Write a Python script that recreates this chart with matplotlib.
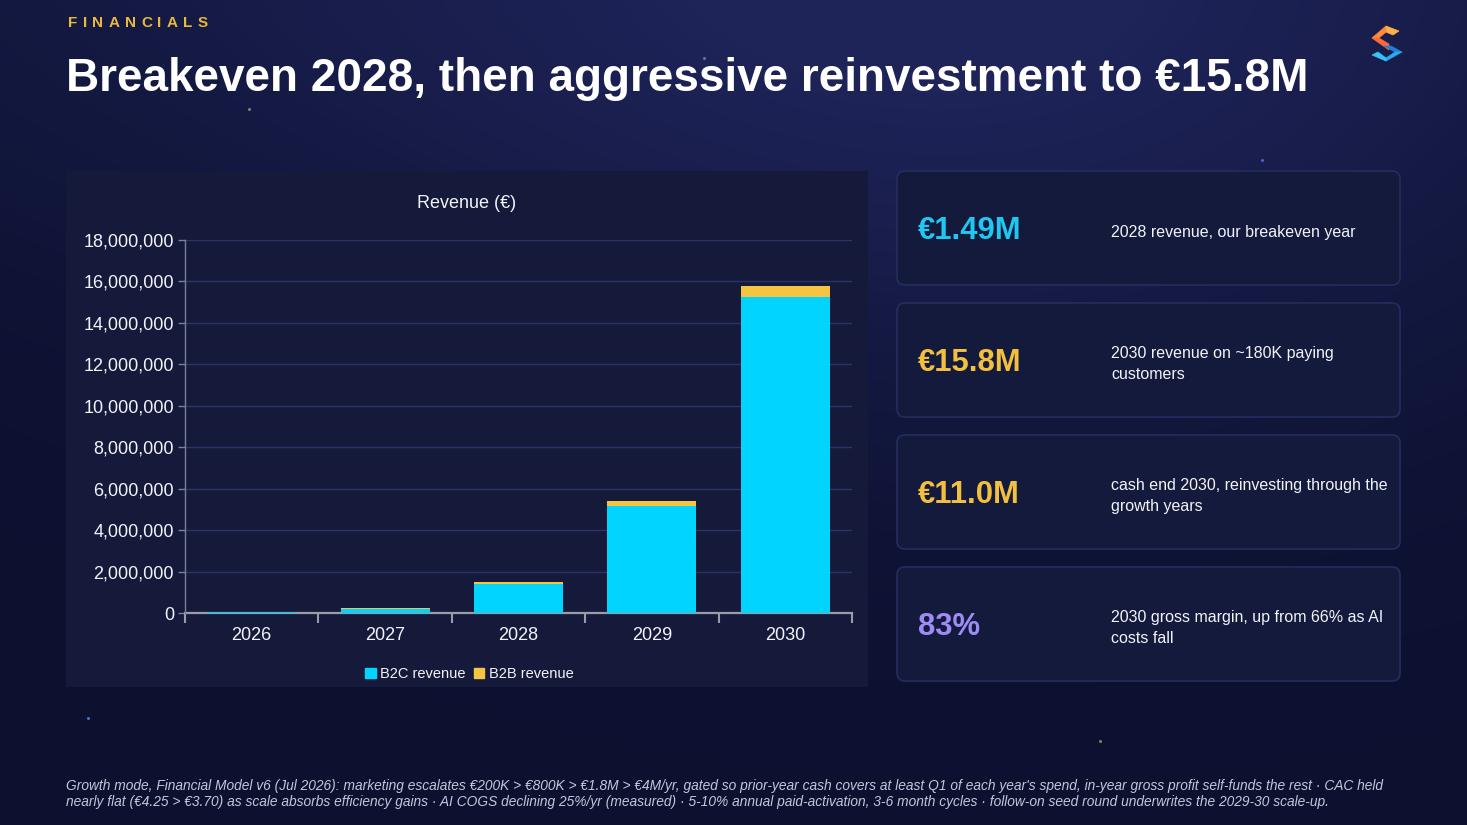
import numpy as np
import matplotlib
matplotlib.use("Agg")
import matplotlib.pyplot as plt
from matplotlib.patches import FancyBboxPatch, Rectangle, Patch, Polygon
from matplotlib.ticker import FuncFormatter

# ---------------- data ----------------
years = ["2026", "2027", "2028", "2029", "2030"]
b2c_revenue = [45000, 210000, 1400000, 5160000, 15250000]
b2b_revenue = [0, 10000, 90000, 240000, 550000]
series_names = ["B2C revenue", "B2B revenue"]
y_ticks = list(range(0, 18000001, 2000000))

kpi_values = ["€1.49M", "€15.8M", "€11.0M", "83%"]
kpi_texts = ["2028 revenue, our breakeven year",
             "2030 revenue on ~180K paying\ncustomers",
             "cash end 2030, reinvesting through the\ngrowth years",
             "2030 gross margin, up from 66% as AI\ncosts fall"]

eyebrow = "FINANCIALS"
headline = "Breakeven 2028, then aggressive reinvestment to €15.8M"
chart_title = "Revenue (€)"
footnote = ("Growth mode, Financial Model v6 (Jul 2026): marketing escalates €200K > €800K > €1.8M > €4M/yr, gated so prior-year cash covers at least Q1 of each year's spend, in-year gross profit self-funds the rest · CAC held\n"
            "nearly flat (€4.25 > €3.70) as scale absorbs efficiency gains · AI COGS declining 25%/yr (measured) · 5-10% annual paid-activation, 3-6 month cycles · follow-on seed round underwrites the 2029-30 scale-up.")

# ---------------- style ----------------
CYAN = "#00d4ff"
GOLD = "#f5c542"
KPI_COLORS = ["#1ec8f2", "#f2c03e", "#f2c03e", "#9d8cf5"]
WHITE = "#f2f3f8"
SANS = ["Liberation Sans", "DejaVu Sans"]

W, H = 1467, 825
fig = plt.figure(figsize=(W / 100, H / 100), dpi=100)

# background
bg = fig.add_axes([0, 0, 1, 1])
bg.set_xlim(0, W)
bg.set_ylim(H, 0)
bg.axis("off")
yy, xx = np.mgrid[0:H, 0:W]
base = np.array([0x0c, 0x11, 0x30]) / 255.0
glow = np.array([0x1e, 0x23, 0x58]) / 255.0
t = np.exp(-(((xx - 1000) / 650.0) ** 2 + ((yy + 30) / 420.0) ** 2))
t2 = 0.35 * np.exp(-(((xx - 200) / 700.0) ** 2 + ((yy + 50) / 300.0) ** 2))
tt = np.clip(t + t2, 0, 1)[..., None]
img = base * (1 - tt) + glow * tt
bg.imshow(img, extent=[0, W, H, 0], aspect="auto", zorder=0)

# decorative dots
for (dx, dy, c) in [(249, 109, "#8a8060"), (704, 58, "#707080"), (1262, 160, "#5a5ad0"),
                    (88, 718, "#3a78c0"), (1100, 741, "#8a8060")]:
    bg.plot(dx, dy, "o", ms=2.2, color=c, mec="none", zorder=1)

# header
fig.canvas.draw()
r = fig.canvas.get_renderer()
x = 68
for ch in eyebrow:
    tx = bg.text(x, 23, ch, color="#e8b93a", fontsize=11, fontweight="bold",
                 family=SANS, va="center", ha="left", zorder=3)
    x += tx.get_window_extent(renderer=r).width + 5.3
bg.text(66, 79, headline, color="white", fontsize=33, fontweight="bold",
        family=SANS, va="center", ha="left", zorder=3)

# logo (zigzag S as filled bands)
logo_shapes = [
    ([(1386, 26), (1399, 31), (1393, 35), (1386, 32)], "#ffb04a"),
    ([(1386, 26), (1386, 32), (1379, 38), (1372, 38)], "#ff8a3a"),
    ([(1372, 38), (1379, 38), (1389, 44), (1389, 50)], "#ff6a35"),
    ([(1384, 46), (1391, 46), (1402, 52), (1395, 52)], "#1e7fe0"),
    ([(1402, 52), (1395, 52), (1386, 58), (1386, 61)], "#2aa8f0"),
    ([(1386, 58), (1386, 61), (1372, 55), (1378, 52)], "#35c5f4"),
]
for pts, col in logo_shapes:
    bg.add_patch(Polygon(pts, closed=True, facecolor=col, edgecolor=col, lw=0.5, zorder=3))

# chart panel
bg.add_patch(Rectangle((66, 171), 802, 516, facecolor="#151a3b", edgecolor="none", zorder=1))
bg.text(467, 203, chart_title, color=WHITE, fontsize=13, family=SANS,
        va="center", ha="center", zorder=3)

# cards
card_tops = [171, 303, 435, 567]
for top, val, txt, col in zip(card_tops, kpi_values, kpi_texts, KPI_COLORS):
    bg.add_patch(FancyBboxPatch((897, top), 503, 114, boxstyle="round,pad=0,rounding_size=8",
                                facecolor="#141a3c", edgecolor="#262d5c", linewidth=1.2, zorder=1))
    cy = top + 58
    bg.text(918, cy + 2, val, color=col, fontsize=22.3, fontweight="bold", family=SANS,
            va="center", ha="left", zorder=3)
    bg.text(1111, cy + 3, txt, color=WHITE, fontsize=11.5, family=SANS,
            va="center", ha="left", linespacing=1.42, zorder=3)

# footnote
bg.text(66, 794, footnote, color="#c3c7da", fontsize=9.9, style="italic", family=SANS,
        va="center", ha="left", linespacing=1.17, zorder=3)

# chart axes
ax = fig.add_axes([185 / W, 1 - 613 / H, 667 / W, 373 / H])
ax.set_facecolor("none")
pos = np.arange(len(years))
ax.bar(pos, b2c_revenue, width=0.667, color=CYAN, label=series_names[0], zorder=3)
ax.bar(pos, b2b_revenue, width=0.667, bottom=b2c_revenue, color=GOLD, label=series_names[1], zorder=3)
ax.set_xlim(-0.5, len(years) - 0.5)
ax.set_ylim(0, 18000000)
ax.set_yticks(y_ticks)
ax.yaxis.set_major_formatter(FuncFormatter(lambda v, p: f"{int(v):,}"))
ax.set_xticks(pos)
ax.set_xticklabels(years)
ax.set_xticks(np.arange(-0.5, len(years), 1.0), minor=True)
ax.grid(axis="y", color="#2c3366", linewidth=1, zorder=0)
for s in ("top", "right"):
    ax.spines[s].set_visible(False)
ax.spines["left"].set_color("#7a809c")
ax.spines["left"].set_linewidth(1)
ax.spines["bottom"].set_color("#9a9cac")
ax.spines["bottom"].set_linewidth(1.6)
ax.spines["bottom"].set_zorder(2)
ax.tick_params(axis="y", colors="#7a809c", labelcolor=WHITE, length=5, width=1, labelsize=13, pad=3)
ax.tick_params(axis="x", which="major", length=0, labelcolor=WHITE, labelsize=13, pad=10)
ax.tick_params(axis="x", which="minor", length=7, width=1.5, color="#9a9cac")
for lab in ax.get_xticklabels() + ax.get_yticklabels():
    lab.set_family(SANS)

handles = [Patch(color=CYAN), Patch(color=GOLD)]
leg = ax.legend(handles, series_names, loc="center", bbox_to_anchor=(0.4265, -0.164), ncol=2,
                frameon=False, handlelength=0.7, handleheight=0.7, handletextpad=0.3,
                columnspacing=0.6, prop={"family": SANS, "size": 10.5})
for tx in leg.get_texts():
    tx.set_color(WHITE)

fig.savefig("out.png", dpi=100, facecolor=fig.get_facecolor())
